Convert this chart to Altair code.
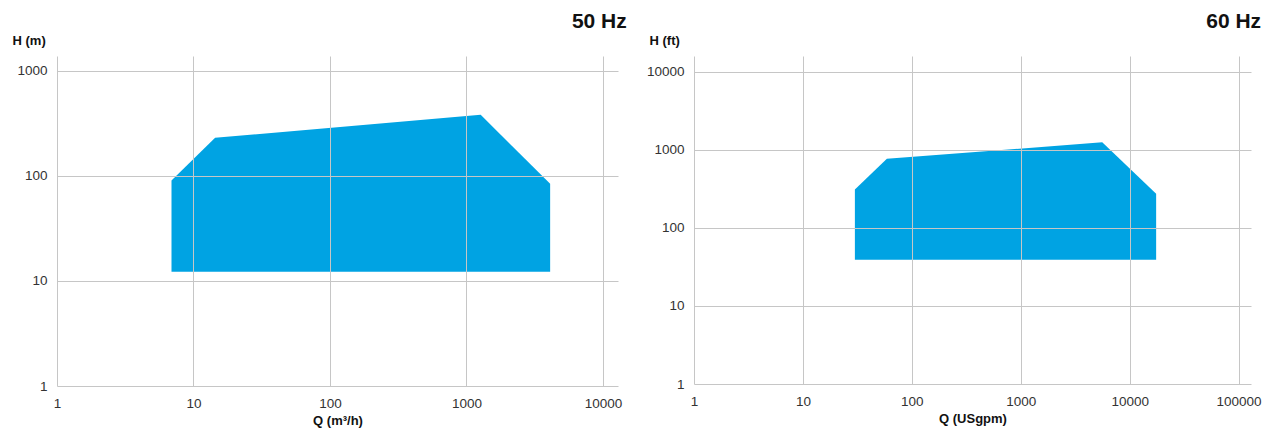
import altair as alt
import pandas as pd

# 50 Hz (metric)
q50 = [6.9, 14.4, 1270, 4100]
h50 = [90, 230, 380, 84]
base50 = [12.2, 12.2, 12.2, 12.2]

# 60 Hz (US)
q60 = [30, 59, 5600, 17500]
h60 = [310, 770, 1250, 274]
base60 = [39, 39, 39, 39]

x50_ticks = [1, 10, 100, 1000, 10000]
y50_ticks = [1, 10, 100, 1000]
x60_ticks = [1, 10, 100, 1000, 10000, 100000]
y60_ticks = [1, 10, 100, 1000, 10000]

FILL = "#00A3E3"
GRID = "#c6c6c6"
FONT = "Liberation Sans"


def panel(q, h, b, xt, yt, xdom, ydom, xtitle, ytitle, title, w, hgt, dx):
    df = pd.DataFrame({"Q": q, "H": h, "B": b})
    return alt.Chart(df).mark_area(color=FILL, opacity=1).encode(
        x=alt.X("Q:Q",
                scale=alt.Scale(type="log", domain=xdom, nice=False, zero=False),
                axis=alt.Axis(values=xt, format="d", title=xtitle, grid=True,
                              gridColor=GRID, gridWidth=1, domain=False, ticks=False,
                              labelPadding=10, labelFontSize=13.5, labelColor="#333",
                              labelFont=FONT, titleFont=FONT, titleFontSize=13,
                              titleFontWeight="bold", titleColor="#111", titlePadding=5,
                              zindex=1, labelFlush=False)),
        y=alt.Y("H:Q",
                scale=alt.Scale(type="log", domain=ydom, nice=False, zero=False),
                axis=alt.Axis(values=yt, format="d", title=ytitle, grid=True,
                              gridColor=GRID, gridWidth=1, domain=False, ticks=False,
                              labelPadding=10, labelFontSize=13.5, labelColor="#333",
                              labelFont=FONT, titleFont=FONT, titleFontSize=13,
                              titleFontWeight="bold", titleColor="#111",
                              titleAngle=0, titleAlign="left", titleBaseline="middle",
                              titleX=-45, titleY=-16, zindex=1, labelFlush=False)),
        y2="B:Q",
    ).properties(
        width=w, height=hgt,
        title=alt.TitleParams(title, anchor="end", fontSize=21, font=FONT,
                              fontWeight="bold", color="#111", dx=dx, offset=2),
    )


left = panel(q50, h50, base50, x50_ticks, y50_ticks, [1, 12880], [1, 1380],
             "Q (m³/h)", "H (m)", "50 Hz", 561, 330, 5)
right = panel(q60, h60, base60, x60_ticks, y60_ticks, [1, 130000], [1, 15960],
              "Q (USgpm)", "H (ft)", "60 Hz", 557, 328, 0)

chart = alt.hconcat(left, right, spacing=19).configure_view(stroke=None).properties(
    padding={"left": 4, "top": 3, "right": 0, "bottom": 0},
    background="white",
)

chart.save("out.html", embed_options={"renderer": "svg", "actions": False})
